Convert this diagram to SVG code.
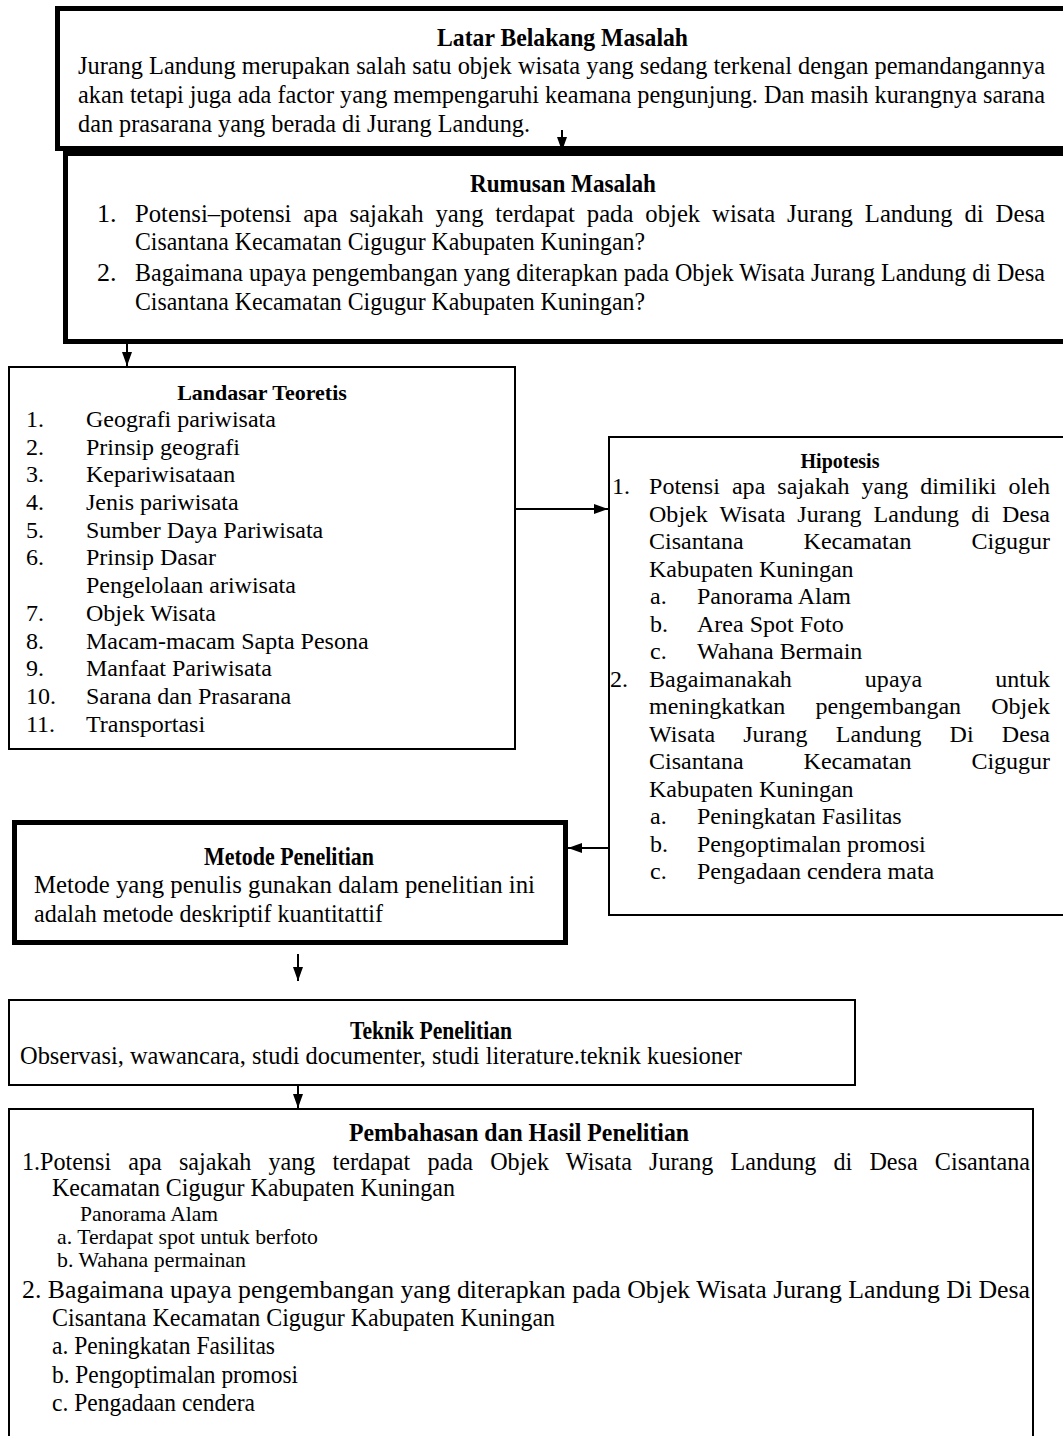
<svg xmlns="http://www.w3.org/2000/svg" width="1063" height="1436" viewBox="0 0 1063 1436">
<style>
.t{font-family:"Liberation Serif","Times New Roman",serif;fill:#000}
.b{font-weight:bold}
.c{font-size:26px}
.n{font-size:24px}
.s{font-size:21px}
.box{fill:#fff;stroke:#000}
.thick{stroke-width:5}
.thin{stroke-width:2}
.conn{stroke:#000;stroke-width:2;fill:none}
</style>
<defs>
<marker id="ah" viewBox="0 0 14 10" refX="14" refY="5" markerWidth="14" markerHeight="10" markerUnits="userSpaceOnUse" orient="auto">
<path d="M0,0 L14,5 L0,10 z" fill="#000"/>
</marker>
</defs>
<rect width="1063" height="1436" fill="#fff"/>

<g id="latar-belakang">
<rect class="box thick" x="57.5" y="8.5" width="1030" height="140"/>
<text class="t b c" x="437" y="46" textLength="251" lengthAdjust="spacingAndGlyphs">Latar Belakang Masalah</text>
<text class="t c" x="78" y="74" textLength="967" lengthAdjust="spacingAndGlyphs">Jurang Landung merupakan salah satu objek wisata yang sedang terkenal dengan pemandangannya</text>
<text class="t c" x="78" y="103" textLength="967" lengthAdjust="spacingAndGlyphs">akan tetapi juga ada factor yang mempengaruhi keamana pengunjung. Dan masih kurangnya sarana</text>
<text class="t c" x="78" y="132" textLength="452" lengthAdjust="spacingAndGlyphs">dan prasarana yang berada di Jurang Landung.</text>
</g>

<g id="rumusan-masalah">
<rect class="box thick" x="65.5" y="153.5" width="1030" height="188"/>
<text class="t b c" x="470" y="192" textLength="186" lengthAdjust="spacingAndGlyphs">Rumusan Masalah</text>
<text class="t c" x="97" y="222">1.</text>
<text class="t c" x="135" y="222" style="word-spacing:6px" textLength="910" lengthAdjust="spacingAndGlyphs">Potensi–potensi apa sajakah yang terdapat pada objek wisata Jurang Landung di Desa</text>
<text class="t c" x="135" y="250" textLength="510" lengthAdjust="spacingAndGlyphs">Cisantana Kecamatan Cigugur Kabupaten Kuningan?</text>
<text class="t c" x="97" y="281">2.</text>
<text class="t c" x="135" y="281" textLength="910" lengthAdjust="spacingAndGlyphs">Bagaimana upaya pengembangan yang diterapkan pada Objek Wisata Jurang Landung di Desa</text>
<text class="t c" x="135" y="310" textLength="510" lengthAdjust="spacingAndGlyphs">Cisantana Kecamatan Cigugur Kabupaten Kuningan?</text>
</g>

<g id="landasar-teoretis">
<rect class="box thin" x="9" y="367" width="506" height="382"/>
<text class="t b" font-size="22" x="262" y="400" text-anchor="middle">Landasar Teoretis</text>
<g class="t n">
<text x="26" y="427">1.</text><text x="86" y="427">Geografi pariwisata</text>
<text x="26" y="455">2.</text><text x="86" y="455">Prinsip geografi</text>
<text x="26" y="482">3.</text><text x="86" y="482">Kepariwisataan</text>
<text x="26" y="510">4.</text><text x="86" y="510">Jenis pariwisata</text>
<text x="26" y="538">5.</text><text x="86" y="538">Sumber Daya Pariwisata</text>
<text x="26" y="565">6.</text><text x="86" y="565">Prinsip Dasar</text>
<text x="86" y="593">Pengelolaan ariwisata</text>
<text x="26" y="621">7.</text><text x="86" y="621">Objek Wisata</text>
<text x="26" y="649">8.</text><text x="86" y="649">Macam-macam Sapta Pesona</text>
<text x="26" y="676">9.</text><text x="86" y="676">Manfaat Pariwisata</text>
<text x="26" y="704">10.</text><text x="86" y="704">Sarana dan Prasarana</text>
<text x="26" y="732">11.</text><text x="86" y="732">Transportasi</text>
</g>
</g>

<g id="hipotesis">
<rect class="box thin" x="609" y="437" width="470" height="478"/>
<text class="t b" font-size="20" x="840" y="468" text-anchor="middle">Hipotesis</text>
<g class="t n">
<text x="612" y="494">1.</text>
<text x="649" y="494" style="word-spacing:6px" textLength="401" lengthAdjust="spacing">Potensi apa sajakah yang dimiliki oleh</text>
<text x="649" y="522" style="word-spacing:6px" textLength="401" lengthAdjust="spacing">Objek Wisata Jurang Landung di Desa</text>
<text x="649" y="549" style="word-spacing:54px" textLength="401" lengthAdjust="spacing">Cisantana Kecamatan Cigugur</text>
<text x="649" y="577">Kabupaten Kuningan</text>
<text x="650" y="604">a.</text><text x="697" y="604">Panorama Alam</text>
<text x="650" y="632">b.</text><text x="697" y="632">Area Spot Foto</text>
<text x="650" y="659">c.</text><text x="697" y="659">Wahana Bermain</text>
<text x="610" y="687">2.</text>
<text x="649" y="687" style="word-spacing:67px" textLength="401" lengthAdjust="spacing">Bagaimanakah upaya untuk</text>
<text x="649" y="714" style="word-spacing:24px" textLength="401" lengthAdjust="spacing">meningkatkan pengembangan Objek</text>
<text x="649" y="742" style="word-spacing:22px" textLength="401" lengthAdjust="spacing">Wisata Jurang Landung Di Desa</text>
<text x="649" y="769" style="word-spacing:54px" textLength="401" lengthAdjust="spacing">Cisantana Kecamatan Cigugur</text>
<text x="649" y="797">Kabupaten Kuningan</text>
<text x="650" y="824">a.</text><text x="697" y="824">Peningkatan Fasilitas</text>
<text x="650" y="852">b.</text><text x="697" y="852">Pengoptimalan promosi</text>
<text x="650" y="879">c.</text><text x="697" y="879">Pengadaan cendera mata</text>
</g>
</g>

<g id="metode-penelitian">
<rect class="box thick" x="14.5" y="822.5" width="551" height="120"/>
<text class="t b c" x="204" y="865" textLength="170" lengthAdjust="spacingAndGlyphs">Metode Penelitian</text>
<text class="t c" x="34" y="893" textLength="501" lengthAdjust="spacingAndGlyphs">Metode yang penulis gunakan dalam penelitian ini</text>
<text class="t c" x="34" y="922" textLength="349" lengthAdjust="spacingAndGlyphs">adalah metode deskriptif kuantitattif</text>
</g>

<g id="teknik-penelitian">
<rect class="box thin" x="9" y="1000" width="846" height="85"/>
<text class="t b c" x="350" y="1039" textLength="162" lengthAdjust="spacingAndGlyphs">Teknik Penelitian</text>
<text class="t c" x="20" y="1064" textLength="722" lengthAdjust="spacingAndGlyphs">Observasi, wawancara, studi documenter, studi literature.teknik kuesioner</text>
</g>

<g id="pembahasan-hasil">
<rect class="box thin" x="9" y="1109" width="1024" height="400"/>
<text class="t b c" x="349" y="1141" textLength="340" lengthAdjust="spacingAndGlyphs">Pembahasan dan Hasil Penelitian</text>
<text class="t c" x="22" y="1170" style="word-spacing:12px" textLength="1008" lengthAdjust="spacingAndGlyphs">1.Potensi apa sajakah yang terdapat pada Objek Wisata Jurang Landung di Desa Cisantana</text>
<text class="t c" x="52" y="1196" textLength="403" lengthAdjust="spacingAndGlyphs">Kecamatan Cigugur Kabupaten Kuningan</text>
<text class="t s" x="80" y="1221" textLength="138" lengthAdjust="spacingAndGlyphs">Panorama Alam</text>
<text class="t s" x="57" y="1244" textLength="261" lengthAdjust="spacingAndGlyphs">a. Terdapat spot untuk berfoto</text>
<text class="t s" x="57" y="1267" textLength="189" lengthAdjust="spacingAndGlyphs">b. Wahana permainan</text>
<text class="t c" x="22" y="1298" textLength="1008" lengthAdjust="spacingAndGlyphs">2. Bagaimana upaya pengembangan yang diterapkan pada Objek Wisata Jurang Landung Di Desa</text>
<text class="t c" x="52" y="1326" textLength="503" lengthAdjust="spacingAndGlyphs">Cisantana Kecamatan Cigugur Kabupaten Kuningan</text>
<text class="t c" x="52" y="1354" textLength="223" lengthAdjust="spacingAndGlyphs">a. Peningkatan Fasilitas</text>
<text class="t c" x="52" y="1383" textLength="246" lengthAdjust="spacingAndGlyphs">b. Pengoptimalan promosi</text>
<text class="t c" x="52" y="1411" textLength="203" lengthAdjust="spacingAndGlyphs">c. Pengadaan cendera</text>
</g>

<g id="connectors">
<line class="conn" x1="562" y1="130" x2="562" y2="151" marker-end="url(#ah)"/>
<line class="conn" x1="127" y1="344" x2="127" y2="366" marker-end="url(#ah)"/>
<line class="conn" x1="515" y1="509" x2="608" y2="509" marker-end="url(#ah)"/>
<line class="conn" x1="609" y1="848" x2="568" y2="848" marker-end="url(#ah)"/>
<line class="conn" x1="298" y1="954" x2="298" y2="981" marker-end="url(#ah)"/>
<line class="conn" x1="298" y1="1086" x2="298" y2="1108" marker-end="url(#ah)"/>
</g>
</svg>
